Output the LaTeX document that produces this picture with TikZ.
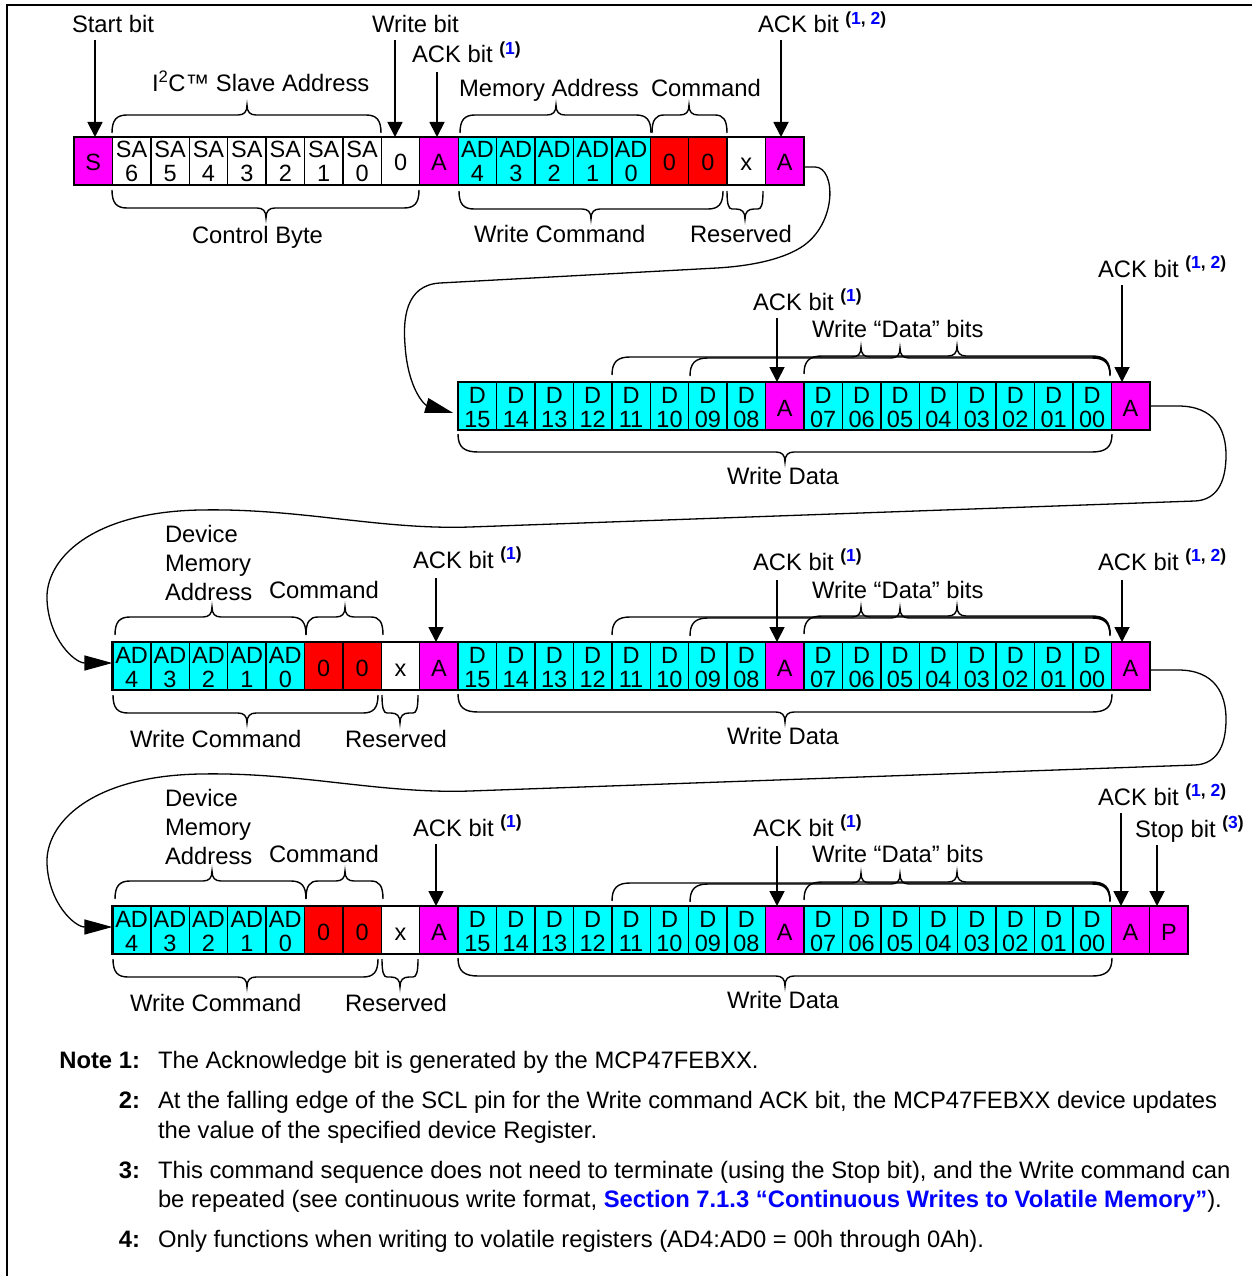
\documentclass[tikz,border=0pt]{standalone}
\usepackage{fontspec}
\setmainfont{Liberation Sans}
\usetikzlibrary{arrows.meta}
\definecolor{mg}{RGB}{255,0,255}
\definecolor{cy}{RGB}{0,255,255}
\definecolor{rd}{RGB}{255,0,0}
\definecolor{linkblue}{RGB}{0,0,255}
\newcommand\bl[1]{\textcolor{linkblue}{#1}}
\newcommand\fnref[1]{\raisebox{8.5pt}{\fontsize{17.5}{18}\selectfont\bfseries(#1)}}
% x1, x2, y of line, tip x, end radius, side (1 = above cells, -1 = below cells)
\newcommand\mybrace[6]{%
 \draw[brc] ({#1},{#3+(#6)*18}) .. controls ({#1},{#3+(#6)*5}) and ({#1+0.3*#5},{#3}) .. ({#1+#5},{#3})
  -- ({#4-9},{#3}) .. controls ({#4-3},{#3}) and ({#4},{#3-(#6)*3}) .. ({#4},{#3-(#6)*10})
  .. controls ({#4},{#3-(#6)*3}) and ({#4+3},{#3}) .. ({#4+9},{#3})
  -- ({#2-#5},{#3}) .. controls ({#2-0.3*#5},{#3}) and ({#2},{#3+(#6)*5}) .. ({#2},{#3+(#6)*18});}
\newcommand\cellrow[4]{%
 \foreach \xf/\xt/\xb/\xc [count=\i from 0] in {#4} {
  \node[cell, fill=\xf] (#1c\i) at ({#2+\i*38.42},#3) {};
  \node[ctxt, anchor=base] (#1t\i) at ([yshift=-21pt]#1c\i.north) {\xt};
  \node[ctxt, anchor=base] (#1b\i) at ([yshift=-45pt]#1c\i.north) {\xb};
  \node[ctxt, anchor=base] (#1m\i) at ([yshift=-34pt]#1c\i.north) {\xc};
 }}
\begin{document}
\begin{tikzpicture}[x=1pt,y=-1pt,
  every node/.style={font=\fontsize{23.8}{28}\selectfont, inner sep=0pt, outer sep=0pt},
  lbl/.style={anchor=base west},
  ctxt/.style={font=\fontsize{23.5}{26}\selectfont},
  cell/.style={draw, line width=1.4pt, minimum width=38.42pt, minimum height=48pt, anchor=north west},
  rowframe/.style={draw, line width=2.4pt},
  arr/.style={line width=1.8pt, -{Triangle[width=15pt,length=15pt]}},
  conn/.style={line width=1.3pt, -{Triangle[width=15pt,length=28pt]}},
  brc/.style={line width=1.4pt}]
\useasboundingbox (0,0) rectangle (1251,1276);
\fill[white] (0,0) rectangle (1251,1276);
\draw[line width=2.5pt] (7,1276) -- (7,5) -- (1260,5);

% ---------- Row 1 ----------
\cellrow{r1}{74}{137}{mg/{}/{}/S, white/SA/6/{}, white/SA/5/{}, white/SA/4/{}, white/SA/3/{}, white/SA/2/{}, white/SA/1/{}, white/SA/0/{}, white/{}/{}/0, mg/{}/{}/A, cy/AD/4/{}, cy/AD/3/{}, cy/AD/2/{}, cy/AD/1/{}, cy/AD/0/{}, rd/{}/{}/0, rd/{}/{}/0, white/{}/{}/x, mg/{}/{}/A}
\draw[rowframe] (r1c0.north west) rectangle (r1c18.south east);

\node[lbl] (L1) at (72,33) {Start bit};
\node[lbl] (L2) at (372,33) {Write bit};
\node[lbl] (L3) at (412,63) {ACK bit \fnref{\bl{1}}};
\node[lbl] (L4) at (152,92) {I\textsuperscript{2}C™ Slave Address};
\node[lbl] (L5) at (459,97) {Memory Address};
\node[lbl] (L6) at (651,97) {Command};
\node[lbl] (L7) at (758,33) {ACK bit \fnref{\bl{1}, \bl{2}}};
\node[lbl] (L8) at (192,243) {Control Byte};
\node[lbl] (L9) at (474,242) {Write Command};
\node[lbl] (L10) at (690,242) {Reserved};

\coordinate (a11) at (95,40);  \draw[arr] (a11) -- (a11 |- r1c0.north);
\coordinate (a12) at (395,40); \draw[arr] (a12) -- (a12 |- r1c8.north);
\coordinate (a13) at (437,72); \draw[arr] (a13) -- (a13 |- r1c9.north);
\coordinate (a14) at (781,40); \draw[arr] (a14) -- (a14 |- r1c18.north);

\mybrace{112}{381}{115}{247}{15}{1}
\mybrace{460}{651}{115}{556}{15}{1}
\mybrace{652}{727}{115}{689}{12}{1}
\mybrace{112}{419}{208}{266}{15}{-1}
\mybrace{459}{723}{209}{591}{15}{-1}
\mybrace{727}{763}{209}{745}{5}{-1}

% ---------- Row 2 ----------
\cellrow{r2}{458.2}{382}{cy/D/15/{}, cy/D/14/{}, cy/D/13/{}, cy/D/12/{}, cy/D/11/{}, cy/D/10/{}, cy/D/09/{}, cy/D/08/{}, mg/{}/{}/A, cy/D/07/{}, cy/D/06/{}, cy/D/05/{}, cy/D/04/{}, cy/D/03/{}, cy/D/02/{}, cy/D/01/{}, cy/D/00/{}, mg/{}/{}/A}
\draw[rowframe] (r2c0.north west) rectangle (r2c17.south east);

\node[lbl] (M1) at (753,310) {ACK bit \fnref{\bl{1}}};
\node[lbl] (M2) at (812,337) {Write “Data” bits};
\node[lbl] (M3) at (1098,277) {ACK bit \fnref{\bl{1}, \bl{2}}};
\node[lbl] (M4) at (727,484) {Write Data};
\coordinate (a21) at (777,318);  \draw[arr] (a21) -- (a21 |- r2c8.north);
\coordinate (a22) at (1122,285); \draw[arr] (a22) -- (a22 |- r2c17.north);

\mybrace{612}{1110}{357}{861}{18}{1}
\mybrace{690}{1110}{358}{900}{18}{1}
\mybrace{804}{1110}{356}{957}{18}{1}
\mybrace{458}{1112}{452}{785}{20}{-1}

% ---------- Row 3 ----------
\cellrow{r3}{112.4}{642}{cy/AD/4/{}, cy/AD/3/{}, cy/AD/2/{}, cy/AD/1/{}, cy/AD/0/{}, rd/{}/{}/0, rd/{}/{}/0, white/{}/{}/x, mg/{}/{}/A, cy/D/15/{}, cy/D/14/{}, cy/D/13/{}, cy/D/12/{}, cy/D/11/{}, cy/D/10/{}, cy/D/09/{}, cy/D/08/{}, mg/{}/{}/A, cy/D/07/{}, cy/D/06/{}, cy/D/05/{}, cy/D/04/{}, cy/D/03/{}, cy/D/02/{}, cy/D/01/{}, cy/D/00/{}, mg/{}/{}/A}
\draw[rowframe] (r3c0.north west) rectangle (r3c26.south east);

\node[lbl] (P1) at (165,542) {Device};
\node[lbl] (P2) at (165,571) {Memory};
\node[lbl] (P3) at (165,600) {Address};
\node[lbl] (P4) at (269,598) {Command};
\node[lbl] (P5) at (413,568) {ACK bit \fnref{\bl{1}}};
\node[lbl] (P6) at (753,570) {ACK bit \fnref{\bl{1}}};
\node[lbl] (P7) at (812,598) {Write “Data” bits};
\node[lbl] (P8) at (1098,570) {ACK bit \fnref{\bl{1}, \bl{2}}};
\node[lbl] (P9) at (130,747) {Write Command};
\node[lbl] (P10) at (345,747) {Reserved};
\node[lbl] (P11) at (727,744) {Write Data};
\coordinate (a31) at (436,578);  \draw[arr] (a31) -- (a31 |- r3c8.north);
\coordinate (a32) at (777,580);  \draw[arr] (a32) -- (a32 |- r3c17.north);
\coordinate (a33) at (1122,580); \draw[arr] (a33) -- (a33 |- r3c26.north);

\mybrace{115}{306}{617}{212}{15}{1}
\mybrace{306}{383}{617}{345}{12}{1}
\mybrace{612}{1110}{617}{861}{18}{1}
\mybrace{690}{1110}{618}{900}{18}{1}
\mybrace{804}{1110}{616}{957}{18}{1}
\mybrace{113}{378}{713}{247}{15}{-1}
\mybrace{382}{418}{713}{400}{5}{-1}
\mybrace{458}{1112}{712}{785}{20}{-1}

% ---------- Row 4 ----------
\cellrow{r4}{112.4}{906}{cy/AD/4/{}, cy/AD/3/{}, cy/AD/2/{}, cy/AD/1/{}, cy/AD/0/{}, rd/{}/{}/0, rd/{}/{}/0, white/{}/{}/x, mg/{}/{}/A, cy/D/15/{}, cy/D/14/{}, cy/D/13/{}, cy/D/12/{}, cy/D/11/{}, cy/D/10/{}, cy/D/09/{}, cy/D/08/{}, mg/{}/{}/A, cy/D/07/{}, cy/D/06/{}, cy/D/05/{}, cy/D/04/{}, cy/D/03/{}, cy/D/02/{}, cy/D/01/{}, cy/D/00/{}, mg/{}/{}/A, mg/{}/{}/P}
\draw[rowframe] (r4c0.north west) rectangle (r4c27.south east);

\node[lbl] (Q1) at (165,806) {Device};
\node[lbl] (Q2) at (165,835) {Memory};
\node[lbl] (Q3) at (165,864) {Address};
\node[lbl] (Q4) at (269,862) {Command};
\node[lbl] (Q5) at (413,836) {ACK bit \fnref{\bl{1}}};
\node[lbl] (Q6) at (753,836) {ACK bit \fnref{\bl{1}}};
\node[lbl] (Q7) at (812,862) {Write “Data” bits};
\node[lbl] (Q8) at (1098,805) {ACK bit \fnref{\bl{1}, \bl{2}}};
\node[lbl] (Q9) at (1135,837) {Stop bit \fnref{\bl{3}}};
\node[lbl] (Q10) at (130,1011) {Write Command};
\node[lbl] (Q11) at (345,1011) {Reserved};
\node[lbl] (Q12) at (727,1008) {Write Data};
\coordinate (a41) at (436,844);  \draw[arr] (a41) -- (a41 |- r4c8.north);
\coordinate (a42) at (777,846);  \draw[arr] (a42) -- (a42 |- r4c17.north);
\coordinate (a43) at (1121,813); \draw[arr] (a43) -- (a43 |- r4c26.north);
\coordinate (a44) at (1157,845); \draw[arr] (a44) -- (a44 |- r4c27.north);

\mybrace{115}{306}{881}{212}{15}{1}
\mybrace{306}{383}{881}{345}{12}{1}
\mybrace{612}{1110}{883}{861}{18}{1}
\mybrace{690}{1110}{884}{900}{18}{1}
\mybrace{804}{1110}{882}{957}{18}{1}
\mybrace{113}{378}{977}{247}{15}{-1}
\mybrace{382}{418}{977}{400}{5}{-1}
\mybrace{458}{1112}{976}{785}{20}{-1}

% ---------- Connectors ----------
\draw[conn] ([yshift=-6pt]r1c18.east) -- (815,167) .. controls (836,167) and (838,225) .. (800,248)
  .. controls (780,260) and (750,266) .. (717,268) -- (440,283)
  .. controls (405,285) and (403,320) .. (405,345)
  .. controls (408,390) and (425,405) .. ([xshift=-5pt,yshift=-7pt]r2c0.west);
\draw[conn] (r2c17.east) -- (1178,406) .. controls (1215,406) and (1226,430) .. (1226,455)
  .. controls (1226,485) and (1215,500) .. (1195,501) -- (470,527)
  .. controls (380,530) and (300,508) .. (200,510)
  .. controls (90,512) and (45,560) .. (47,600)
  .. controls (49,640) and (75,663) .. ([yshift=3pt]r3c0.west);
\draw[conn] ([yshift=-4pt]r3c26.east) -- (1178,670) .. controls (1215,670) and (1226,694) .. (1226,719)
  .. controls (1226,749) and (1215,764) .. (1195,765) -- (470,791)
  .. controls (380,794) and (300,772) .. (200,774)
  .. controls (90,776) and (45,824) .. (47,864)
  .. controls (49,904) and (75,927) .. ([yshift=3pt]r4c0.west);

% ---------- Notes ----------
\node[anchor=base east] (N1l) at (140,1068) {\textbf{Note 1:}};
\node[lbl] (N1) at (158,1068) {The Acknowledge bit is generated by the MCP47FEBXX.};
\node[anchor=base east] (N2l) at (140,1108) {\textbf{2:}};
\node[lbl] (N2a) at (158,1108) {At the falling edge of the SCL pin for the Write command ACK bit, the MCP47FEBXX device updates};
\node[lbl] (N2b) at (158,1138) {the value of the specified device Register.};
\node[anchor=base east] (N3l) at (140,1178) {\textbf{3:}};
\node[lbl] (N3a) at (158,1178) {This command sequence does not need to terminate (using the Stop bit), and the Write command can};
\node[lbl] (N3b) at (158,1207) {be repeated (see continuous write format, \textcolor{linkblue}{\textbf{Section 7.1.3 “Continuous Writes to Volatile Memory”}}).};
\node[anchor=base east] (N4l) at (140,1247) {\textbf{4:}};
\node[lbl] (N4) at (158,1247) {Only functions when writing to volatile registers (AD4:AD0 = 00h through 0Ah).};
\end{tikzpicture}
\end{document}
